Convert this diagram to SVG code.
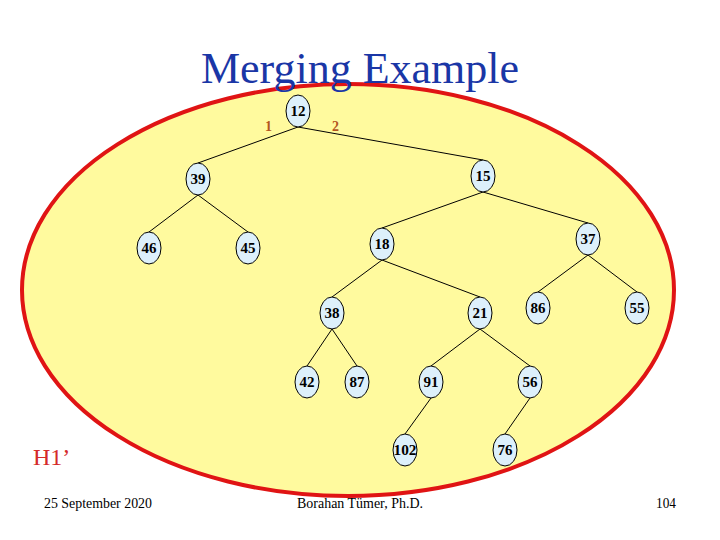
<svg xmlns="http://www.w3.org/2000/svg" width="720" height="540" viewBox="0 0 720 540">
<style>
.n ellipse{fill:#ddf0fb;stroke:#000;stroke-width:1}
.n text{font-family:"Liberation Serif",serif;font-weight:bold;font-size:15px;text-anchor:middle;fill:#000}
.e line{stroke:#000;stroke-width:1}
.lbl{font-family:"Liberation Serif",serif;font-weight:bold;font-size:14px;fill:#b4561f}
.ft{font-family:"Liberation Serif",serif;font-size:14px;fill:#000}
</style>
<rect width="720" height="540" fill="#fff"/>
<ellipse cx="348" cy="290" rx="326" ry="206" fill="#fffa9e" stroke="#e01414" stroke-width="4"/>
<text x="360" y="83" text-anchor="middle" font-family="Liberation Serif,serif" font-size="44" fill="#1a36a6">Merging Example</text>
<g class="e" id="connectors">
<line x1="298" y1="127" x2="198" y2="163"/>
<line x1="298" y1="127" x2="483" y2="160"/>
<line x1="198" y1="195" x2="149" y2="232"/>
<line x1="198" y1="195" x2="248" y2="232"/>
<line x1="483" y1="192" x2="382" y2="228"/>
<line x1="483" y1="192" x2="588" y2="223"/>
<line x1="382" y1="260" x2="332" y2="297"/>
<line x1="382" y1="260" x2="480" y2="297"/>
<line x1="588" y1="255" x2="538" y2="292"/>
<line x1="588" y1="255" x2="637" y2="292"/>
<line x1="332" y1="329" x2="307" y2="366"/>
<line x1="332" y1="329" x2="357" y2="366"/>
<line x1="480" y1="329" x2="431" y2="366"/>
<line x1="480" y1="329" x2="530" y2="366"/>
<line x1="431" y1="398" x2="405" y2="434"/>
<line x1="530" y1="398" x2="505" y2="434"/>
</g>
<text class="lbl" x="265" y="131">1</text>
<text class="lbl" x="332" y="131">2</text>
<g class="n" id="n12"><ellipse cx="298" cy="111" rx="12" ry="16"/><text x="298" y="116">12</text></g>
<g class="n" id="n39"><ellipse cx="198" cy="179" rx="12" ry="16"/><text x="198" y="184">39</text></g>
<g class="n" id="n15"><ellipse cx="483" cy="176" rx="12" ry="16"/><text x="483" y="181">15</text></g>
<g class="n" id="n46"><ellipse cx="149" cy="248" rx="12" ry="16"/><text x="149" y="253">46</text></g>
<g class="n" id="n45"><ellipse cx="248" cy="248" rx="12" ry="16"/><text x="248" y="253">45</text></g>
<g class="n" id="n18"><ellipse cx="382" cy="244" rx="12" ry="16"/><text x="382" y="249">18</text></g>
<g class="n" id="n37"><ellipse cx="588" cy="239" rx="12" ry="16"/><text x="588" y="244">37</text></g>
<g class="n" id="n38"><ellipse cx="332" cy="313" rx="12" ry="16"/><text x="332" y="318">38</text></g>
<g class="n" id="n21"><ellipse cx="480" cy="313" rx="12" ry="16"/><text x="480" y="318">21</text></g>
<g class="n" id="n86"><ellipse cx="538" cy="308" rx="12" ry="16"/><text x="538" y="313">86</text></g>
<g class="n" id="n55"><ellipse cx="637" cy="308" rx="12" ry="16"/><text x="637" y="313">55</text></g>
<g class="n" id="n42"><ellipse cx="307" cy="382" rx="12" ry="16"/><text x="307" y="387">42</text></g>
<g class="n" id="n87"><ellipse cx="357" cy="382" rx="12" ry="16"/><text x="357" y="387">87</text></g>
<g class="n" id="n91"><ellipse cx="431" cy="382" rx="12" ry="16"/><text x="431" y="387">91</text></g>
<g class="n" id="n56"><ellipse cx="530" cy="382" rx="12" ry="16"/><text x="530" y="387">56</text></g>
<g class="n" id="n102"><ellipse cx="405" cy="450" rx="12" ry="16"/><text x="405" y="455" textLength="23" lengthAdjust="spacingAndGlyphs">102</text></g>
<g class="n" id="n76"><ellipse cx="505" cy="450" rx="12" ry="16"/><text x="505" y="455">76</text></g>
<text x="33" y="465" font-family="Liberation Serif,serif" font-size="24" fill="#d42a2a">H1’</text>
<text class="ft" x="44" y="508" textLength="108" lengthAdjust="spacingAndGlyphs">25 September 2020</text>
<text class="ft" x="297" y="508" textLength="126" lengthAdjust="spacingAndGlyphs">Borahan Tümer, Ph.D.</text>
<text class="ft" x="656" y="508" textLength="20" lengthAdjust="spacingAndGlyphs">104</text>
</svg>
